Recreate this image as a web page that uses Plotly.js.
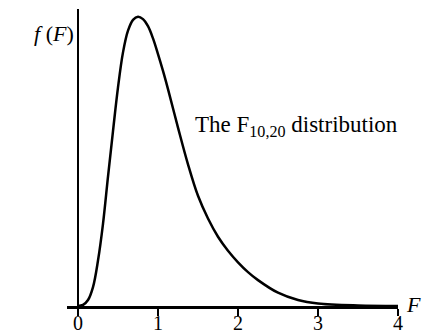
<!DOCTYPE html>
<html>
<head>
<meta charset="utf-8">
<script src="https://cdn.plot.ly/plotly-3.0.1.min.js"></script>
<style>html,body{margin:0;padding:0;background:#fff;}#chart{width:435px;height:334px;}</style>
</head>
<body>
<div id="chart"></div>
<script>
// F values and density values
const fValues = [0, 0.0625, 0.125, 0.1875, 0.25, 0.3125, 0.375, 0.4375, 0.5, 0.5625, 0.625, 0.6875, 0.75, 0.8125, 0.875, 0.9375, 1.0, 1.0625, 1.125, 1.25, 1.375, 1.5, 1.625, 1.75, 1.875, 2.0, 2.125, 2.25, 2.5, 2.75, 3.0, 3.5, 4.0];
const density = [0, 0.003, 0.017, 0.054, 0.13, 0.235, 0.37, 0.5, 0.625, 0.725, 0.787, 0.818, 0.827, 0.82, 0.80, 0.765, 0.72, 0.672, 0.62, 0.51, 0.405, 0.315, 0.25, 0.198, 0.158, 0.125, 0.097, 0.074, 0.038, 0.017, 0.007, 0.0015, 0.0003];
const tickValues = [0, 1, 2, 3, 4];
const tickLabels = ["0", "1", "2", "3", "4"];

const serif = "Liberation Serif, Times New Roman, serif";

Plotly.newPlot("chart", [{
  x: fValues,
  y: density,
  type: "scatter",
  mode: "lines",
  line: {color: "#000", width: 2.5, shape: "spline", smoothing: 1},
  cliponaxis: false,
  hoverinfo: "skip"
}], {
  width: 435,
  height: 334,
  margin: {l: 67, r: 37, t: 9, b: 28, pad: 0},
  paper_bgcolor: "#fff",
  plot_bgcolor: "#fff",
  showlegend: false,
  xaxis: {
    range: [-0.1375, 4],
    showgrid: false,
    zeroline: true,
    zerolinecolor: "#000",
    zerolinewidth: 2.5,
    showline: true,
    linecolor: "#000",
    linewidth: 2.5,
    ticks: "outside",
    ticklen: 7,
    tickwidth: 2,
    tickcolor: "#000",
    tickvals: tickValues,
    ticktext: tickLabels,
    ticklabelstandoff: -10,
    tickfont: {family: serif, size: 20, color: "#000"},
    fixedrange: true
  },
  yaxis: {
    range: [0, 0.849],
    showgrid: false,
    zeroline: false,
    showline: false,
    showticklabels: false,
    ticks: "",
    fixedrange: true
  },
  annotations: [
    {x: 0, y: 0.78, xref: "x", yref: "y", xanchor: "right", yanchor: "middle", xshift: -2, showarrow: false,
     text: "<i>f</i> (<i>F</i>)", font: {family: serif, size: 22, color: "#000"}},
    {x: 4, y: 0, xref: "x", yref: "y", xanchor: "left", yanchor: "middle", xshift: 6, yshift: 2, showarrow: false,
     text: "<i>F</i>", font: {family: serif, size: 22, color: "#000"}},
    {x: 1.44, y: 0.515, xref: "x", yref: "y", xanchor: "left", yanchor: "middle", showarrow: false,
     text: "The F<sub>10,20</sub> distribution", font: {family: serif, size: 23, color: "#000"}}
  ]
}, {staticPlot: true});
</script>
</body>
</html>
